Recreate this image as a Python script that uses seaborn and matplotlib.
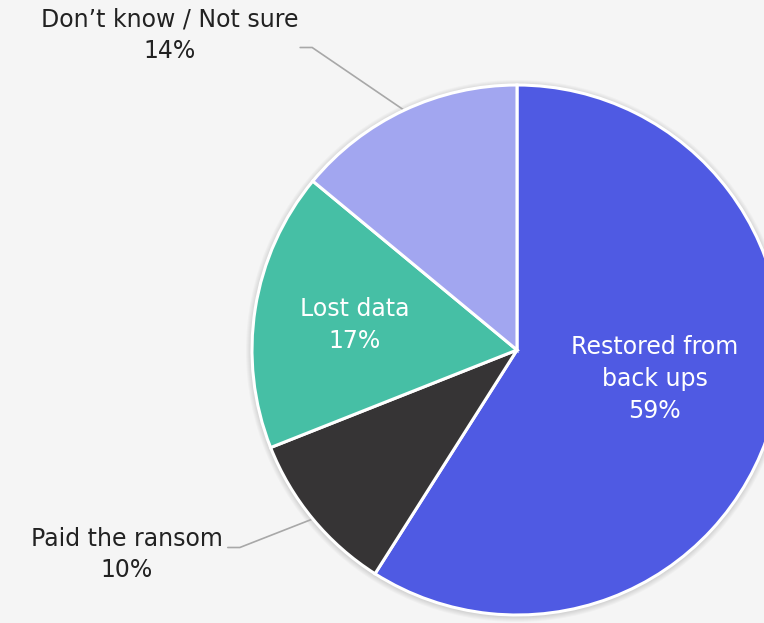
import numpy as np
import matplotlib
matplotlib.use("Agg")
import matplotlib.pyplot as plt
import seaborn as sns

categories = ["Restored from\nback ups", "Paid the ransom", "Lost data", "Don\u2019t know / Not sure"]
shares = [59, 10, 17, 14]
colors = ["#4f5ae3", "#363435", "#46bfa5", "#a2a6f0"]
inside = [True, False, True, False]

sns.set_theme(style="white")
plt.rcParams["font.family"] = ["DejaVu Sans"]

W, H = 764, 623
fig = plt.figure(figsize=(W / 100, H / 100), dpi=100, facecolor="#f5f5f5")
ax = fig.add_axes([0, 0, 1, 1])
ax.set_facecolor("#f5f5f5")

cx, cy, r = 517, H - 350, 265

# soft shadow around the pie
for k in range(6):
    ax.add_patch(plt.Circle((cx, cy - 1), r + 1 + k, color="black", alpha=0.025, lw=0, zorder=0))

wedges, _ = ax.pie(shares, colors=colors, startangle=90, counterclock=False,
                   center=(cx, cy), radius=r, frame=True,
                   wedgeprops=dict(edgecolor="white", linewidth=2.2, zorder=2))
ax.set_xlim(0, W)
ax.set_ylim(0, H)
ax.set_aspect("equal")
ax.axis("off")

fs = 17
txt = dict(fontsize=fs, linespacing=1.42)
for w, name, val, ins in zip(wedges, categories, shares, inside):
    mid = np.deg2rad((w.theta1 + w.theta2) / 2)
    ux, uy = np.cos(mid), np.sin(mid)
    if ins:
        if val > 50:
            d, ox, oy = 0.53 * r, 3, 10
        else:
            d, ox, oy = 0.6 * r, -5, 0
        ax.text(cx + d * ux + ox, cy + d * uy + oy, f"{name}\n{val}%", ha="center",
                va="center", color="white", **txt)
    else:
        ex, ey = cx + r * ux, cy + r * uy
        if uy > 0:
            kx, ky, dy, gap = ex - 92, H - 47.5, 12, 2
        else:
            kx, ky, dy, gap = ex - 73, H - 547.5, -7, 5
        ax.plot([ex, kx, kx - 12], [ey, ky, ky], color="#a8a8a8", lw=1.2, zorder=1,
                solid_joinstyle="miter")
        ax.text(kx - 12 - gap, ky + dy, f"{name}\n{val}%", ha="right", va="center",
                color="#222222", multialignment="center", **txt)

fig.savefig("out.png", dpi=100, facecolor=fig.get_facecolor())
